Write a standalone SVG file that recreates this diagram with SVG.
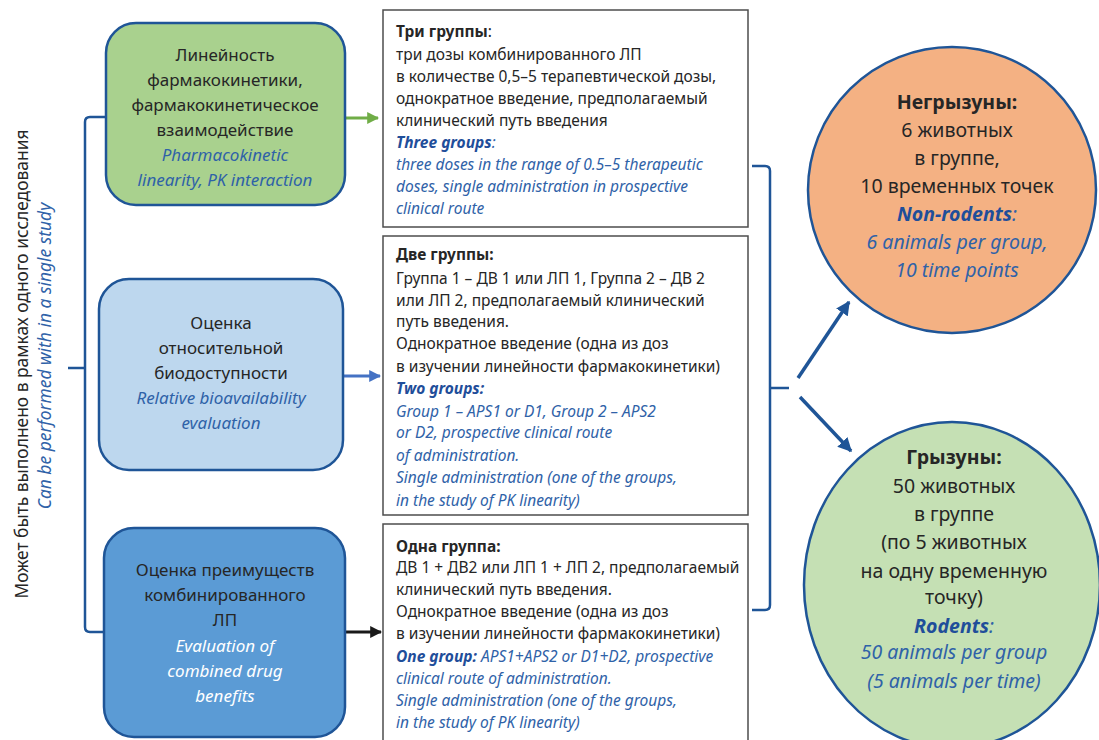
<svg xmlns="http://www.w3.org/2000/svg" width="1099" height="740" viewBox="0 0 1099 740">
<defs>
<style>
text{font-family:"Noto Sans","Liberation Sans",Arial,sans-serif;fill:#262626}
.c{text-anchor:middle}
.l17{font-size:17px}
.v17{font-size:17.4px}
.l15{font-size:15.5px}
.l19{font-size:19.5px}
.en{font-style:italic;fill:#2f62a8}
.enw{font-style:italic;fill:#ffffff}
.b{font-weight:bold}
.eb{font-weight:bold;font-style:italic;fill:#1f4e9a}
.box{fill:#ffffff;stroke:#4d4d4d;stroke-width:1.5}
.node{stroke:#1f5597;stroke-width:2.5}
.br{fill:none;stroke:#1f5597;stroke-width:2.5}
</style>
<marker id="ag" viewBox="0 0 10 10" refX="9" refY="5" markerWidth="4" markerHeight="4" orient="auto" markerUnits="strokeWidth"><path d="M0,0L10,5L0,10z" fill="#70ad47"/></marker>
<marker id="ab" viewBox="0 0 10 10" refX="9" refY="5" markerWidth="4" markerHeight="4" orient="auto" markerUnits="strokeWidth"><path d="M0,0L10,5L0,10z" fill="#4472c4"/></marker>
<marker id="ak" viewBox="0 0 10 10" refX="9" refY="5" markerWidth="4" markerHeight="4" orient="auto" markerUnits="strokeWidth"><path d="M0,0L10,5L0,10z" fill="#1a1a1a"/></marker>
<marker id="ad" viewBox="0 0 10 10" refX="9" refY="5" markerWidth="4" markerHeight="4" orient="auto" markerUnits="strokeWidth"><path d="M0,0L10,5L0,10z" fill="#1f5597"/></marker>
</defs>

<g id="side-label">
<text class="v17" transform="translate(28,364) rotate(-90)" text-anchor="middle">Может быть выполнено в рамках одного исследования</text>
<text class="v17 en" transform="translate(51,356) rotate(-90)" text-anchor="middle">Can be performed with in a single study</text>
</g>

<g id="connectors">
<path class="br" d="M106,117H90Q85,117 85,122V627Q85,632 90,632H106"/>
<path class="br" d="M68,368H85"/>
<path d="M345,118H378" stroke="#70ad47" stroke-width="3" fill="none" marker-end="url(#ag)"/>
<path d="M343,376H380" stroke="#4472c4" stroke-width="3" fill="none" marker-end="url(#ab)"/>
<path d="M345,632H381" stroke="#1a1a1a" stroke-width="3" fill="none" marker-end="url(#ak)"/>
<path class="br" d="M752,166H765Q770,166 770,171V605Q770,610 765,610H752"/>
<path class="br" d="M770,388H789"/>
<path d="M798,378L849,302" stroke="#1f5597" stroke-width="3.5" fill="none" marker-end="url(#ad)"/>
<path d="M800,397L851,451" stroke="#1f5597" stroke-width="3.5" fill="none" marker-end="url(#ad)"/>
</g>

<g id="node-pk-linearity">
<rect class="node" x="106" y="23" width="239" height="182" rx="30" fill="#a9d18e"/>
<text class="l17 c" x="225" y="61">Линейность</text>
<text class="l17 c" x="225" y="86">фармакокинетики,</text>
<text class="l17 c" x="225" y="111">фармакокинетическое</text>
<text class="l17 c" x="225" y="136">взаимодействие</text>
<text class="l17 c en" x="225" y="161">Pharmacokinetic</text>
<text class="l17 c en" x="225" y="186">linearity, PK interaction</text>
</g>

<g id="node-bioavailability">
<rect class="node" x="99" y="279" width="244" height="191" rx="30" fill="#bdd7ee"/>
<text class="l17 c" x="221" y="329">Оценка</text>
<text class="l17 c" x="221" y="354">относительной</text>
<text class="l17 c" x="221" y="379">биодоступности</text>
<text class="l17 c en" x="221" y="404">Relative bioavailability</text>
<text class="l17 c en" x="221" y="429">evaluation</text>
</g>

<g id="node-combined">
<rect class="node" x="104" y="528" width="241" height="209" rx="30" fill="#5b9bd5"/>
<text class="l17 c" x="225" y="576">Оценка преимуществ</text>
<text class="l17 c" x="225" y="601">комбинированного</text>
<text class="l17 c" x="225" y="626">ЛП</text>
<text class="l17 c enw" x="225" y="652">Evaluation of</text>
<text class="l17 c enw" x="225" y="677">combined drug</text>
<text class="l17 c enw" x="225" y="702">benefits</text>
</g>

<g id="node-three-groups">
<rect class="box" x="383" y="10" width="365" height="217"/>
<text class="l15" x="396" y="37"><tspan class="b">Три группы</tspan>:</text>
<text class="l15" x="396" y="60">три дозы комбинированного ЛП</text>
<text class="l15" x="396" y="82">в количестве 0,5–5 терапевтической дозы,</text>
<text class="l15" x="396" y="104">однократное введение, предполагаемый</text>
<text class="l15" x="396" y="126">клинический путь введения</text>
<text class="l15 en" x="396" y="148"><tspan class="eb">Three groups</tspan>:</text>
<text class="l15 en" x="396" y="170">three doses in the range of 0.5–5 therapeutic</text>
<text class="l15 en" x="396" y="192">doses, single administration in prospective</text>
<text class="l15 en" x="396" y="214">clinical route</text>
</g>

<g id="node-two-groups">
<rect class="box" x="383" y="236" width="365" height="279"/>
<text class="l15 b" x="396" y="260">Две группы:</text>
<text class="l15" x="396" y="284">Группа 1 – ДВ 1 или ЛП 1, Группа 2 – ДВ 2</text>
<text class="l15" x="396" y="306">или ЛП 2, предполагаемый клинический</text>
<text class="l15" x="396" y="327">путь введения.</text>
<text class="l15" x="396" y="349">Однократное введение (одна из доз</text>
<text class="l15" x="396" y="372">в изучении линейности фармакокинетики)</text>
<text class="l15 eb" x="396" y="394">Two groups:</text>
<text class="l15 en" x="396" y="417">Group 1 – APS1 or D1, Group 2 – APS2</text>
<text class="l15 en" x="396" y="438">or D2, prospective clinical route</text>
<text class="l15 en" x="396" y="461">of administration.</text>
<text class="l15 en" x="396" y="483">Single administration (one of the groups,</text>
<text class="l15 en" x="396" y="506">in the study of PK linearity)</text>
</g>

<g id="node-one-group">
<rect class="box" x="383" y="524" width="365" height="230"/>
<text class="l15 b" x="396" y="552">Одна группа:</text>
<text class="l15" x="396" y="573">ДВ 1 + ДВ2 или ЛП 1 + ЛП 2, предполагаемый</text>
<text class="l15" x="396" y="595">клинический путь введения.</text>
<text class="l15" x="396" y="617">Однократное введение (одна из доз</text>
<text class="l15" x="396" y="639">в изучении линейности фармакокинетики)</text>
<text class="l15 en" x="396" y="662"><tspan class="eb">One group:</tspan> APS1+APS2 or D1+D2, prospective</text>
<text class="l15 en" x="396" y="684">clinical route of administration.</text>
<text class="l15 en" x="396" y="706">Single administration (one of the groups,</text>
<text class="l15 en" x="396" y="728">in the study of PK linearity)</text>
</g>

<g id="node-non-rodents">
<ellipse class="node" cx="952" cy="190" rx="144" ry="143" fill="#f4b183"/>
<text class="l19 c b" x="957" y="109">Негрызуны:</text>
<text class="l19 c" x="957" y="137">6 животных</text>
<text class="l19 c" x="957" y="165">в группе,</text>
<text class="l19 c" x="957" y="193">10 временных точек</text>
<text class="l19 c en" x="957" y="221"><tspan class="eb">Non-rodents</tspan>:</text>
<text class="l19 c en" x="957" y="249">6 animals per group,</text>
<text class="l19 c en" x="957" y="277">10 time points</text>
</g>

<g id="node-rodents">
<ellipse class="node" cx="952" cy="585" rx="148" ry="163" fill="#c5e0b4"/>
<text class="l19 c b" x="954" y="464">Грызуны:</text>
<text class="l19 c" x="954" y="493">50 животных</text>
<text class="l19 c" x="954" y="521">в группе</text>
<text class="l19 c" x="954" y="549">(по 5 животных</text>
<text class="l19 c" x="954" y="578">на одну временную</text>
<text class="l19 c" x="954" y="604">точку)</text>
<text class="l19 c en" x="954" y="633"><tspan class="eb">Rodents</tspan>:</text>
<text class="l19 c en" x="954" y="659">50 animals per group</text>
<text class="l19 c en" x="954" y="688">(5 animals per time)</text>
</g>
</svg>
